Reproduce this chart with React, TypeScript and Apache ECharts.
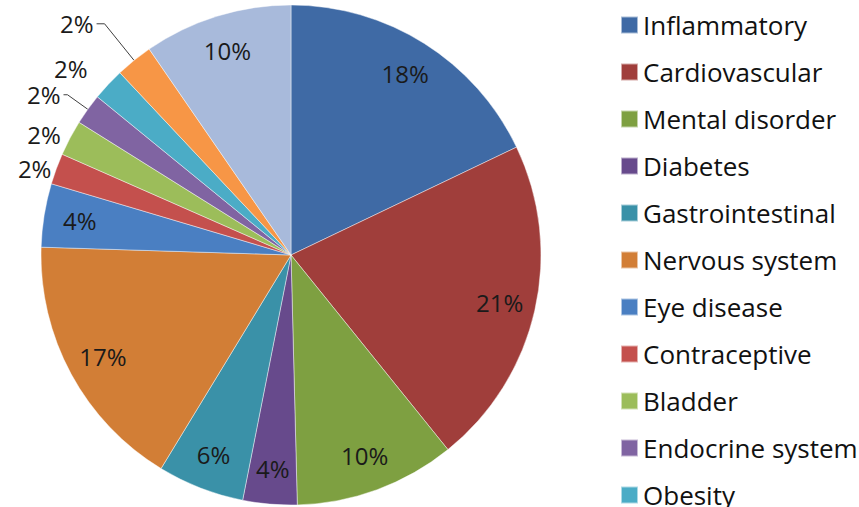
import React, { useEffect, useRef } from "react";
import * as echarts from "echarts";

const categories = [
  "Inflammatory",
  "Cardiovascular",
  "Mental disorder",
  "Diabetes",
  "Gastrointestinal",
  "Nervous system",
  "Eye disease",
  "Contraceptive",
  "Bladder",
  "Endocrine system",
  "Obesity",
  "Respiratory",
  "Other",
];
const shares = [17.9, 21.3, 10.4, 3.5, 5.6, 16.8, 4.1, 2.0, 2.3, 2.0, 2.1, 2.4, 9.6];
const legendNames = categories.slice(0, 11);

const colors = [
  "#3F6AA5",
  "#A03E3B",
  "#7EA041",
  "#674A8C",
  "#3A91A8",
  "#D27E36",
  "#4A7FC2",
  "#C4504D",
  "#9CBD5A",
  "#8064A2",
  "#4BACC6",
  "#F79646",
  "#A8BADB",
];

// label placement styles for the small slices (outside labels)
const outsideStyle: Record<string, { length: number; length2: number; line: boolean }> = {
  Contraceptive: { length: 2, length2: 0, line: false },
  Bladder: { length: 7, length2: 0, line: false },
  "Endocrine system": { length: 25, length2: 4, line: true },
  Obesity: { length: 24, length2: 0, line: false },
  Respiratory: { length: 47, length2: 8, line: true },
};

const FONT = "'Open Sans', 'Noto Sans', sans-serif";
const fmt = (p: any) => Math.round(p.value) + "%";

export default function App() {
  const ref = useRef<HTMLDivElement>(null);
  useEffect(() => {
    if (!ref.current) return;
    const chart = echarts.init(ref.current, undefined, { renderer: "svg" });
    const mainData = categories.map((name, i) => {
      const o = outsideStyle[name];
      return {
        name,
        value: shares[i],
        itemStyle: { color: colors[i] },
        label: o
          ? { show: true, position: "outside", formatter: fmt, fontSize: 24, color: "#1a1a1a", fontFamily: FONT, distanceToLabelLine: 3 }
          : { show: false },
        labelLine: o
          ? { show: o.line, length: o.length, length2: o.length2, smooth: false, lineStyle: { color: "#404040", width: 1 } }
          : { show: false },
      };
    });
    const overlayData = categories.map((name, i) => ({
      name,
      value: shares[i],
      label: outsideStyle[name] ? { show: false } : { show: true },
    }));
    chart.setOption({
      animation: false,
      backgroundColor: "#ffffff",
      legend: {
        orient: "vertical",
        left: 615,
        top: 7,
        height: 700,
        itemWidth: 17,
        itemHeight: 17,
        itemGap: 21,
        icon: "rect",
        textStyle: { fontSize: 26, fontFamily: FONT, color: "#111", lineHeight: 26 },
        data: legendNames,
      },
      series: [
        {
          type: "pie",
          radius: 250,
          center: [291, 255],
          startAngle: 90,
          clockwise: true,
          avoidLabelOverlap: false,
          legendHoverLink: false,
          itemStyle: { borderColor: "rgba(255,255,255,0.55)", borderWidth: 0.8 },
          emphasis: { disabled: true },
          data: mainData,
        },
        {
          type: "pie",
          radius: [172, 250],
          center: [291, 255],
          startAngle: 90,
          clockwise: true,
          silent: true,
          avoidLabelOverlap: false,
          legendHoverLink: false,
          itemStyle: { color: "transparent", borderWidth: 0 },
          emphasis: { disabled: true },
          label: { position: "inside", formatter: fmt, fontSize: 24, color: "#1a1a1a", fontFamily: FONT },
          labelLine: { show: false },
          data: overlayData,
        },
      ],
    });
    return () => chart.dispose();
  }, []);
  return (
    <div
      ref={ref}
      style={{ position: "absolute", left: 0, top: 0, width: 859, height: 507 }}
    />
  );
}
